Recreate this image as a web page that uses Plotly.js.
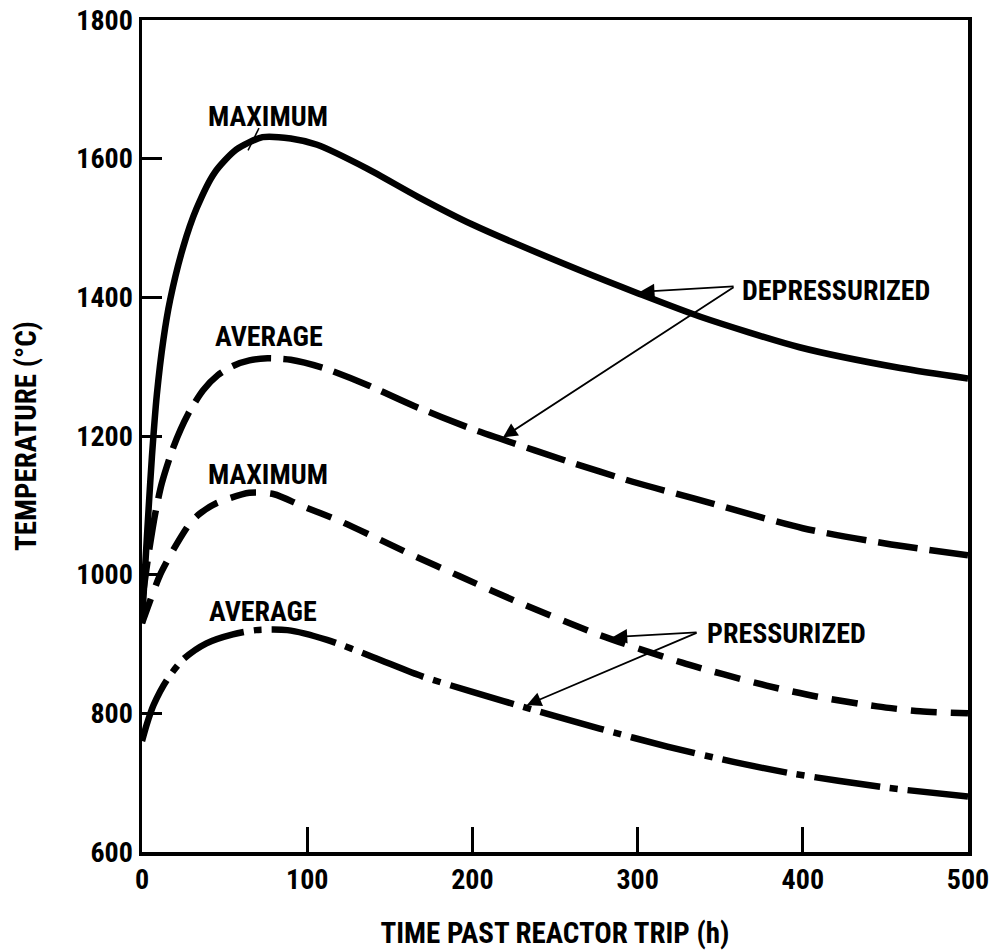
<!DOCTYPE html>
<html>
<head>
<meta charset="utf-8">
<script src="https://cdn.plot.ly/plotly-3.0.1.min.js"></script>
<style>
  html, body { margin: 0; padding: 0; background: #fff; }
  #chart { width: 990px; height: 950px; }
</style>
</head>
<body>
<div id="chart"></div>
<script>
// Depressurized, maximum (solid)
const depMaxX = [0, 2, 4, 6, 9, 13, 17, 25, 33, 44, 57, 73, 90, 106, 136, 167, 200, 265, 300, 338, 398, 459, 500];
const depMaxY = [930, 1015, 1095, 1170, 1260, 1340, 1396, 1473, 1528, 1580, 1613, 1631, 1629, 1620, 1586, 1545, 1505, 1439, 1406, 1372, 1328, 1298, 1283];
// Depressurized, average (long dash)
const depAvgX = [0, 4, 8, 12, 19, 28, 37, 46, 55, 65, 76, 90, 110, 136, 164, 200, 217, 257, 297, 334, 400, 450, 500];
const depAvgY = [962, 1030, 1088, 1132, 1184, 1232, 1266, 1288, 1301, 1309, 1312, 1310, 1298, 1274, 1244, 1210, 1196, 1164, 1134, 1110, 1067, 1045, 1028];
// Pressurized, maximum (dashed)
const prMaxX = [0, 5, 11, 19, 29, 35, 45, 65, 80, 96, 120, 140, 164, 192, 229, 277, 327, 378, 409, 445, 471, 500];
const prMaxY = [930, 963, 1000, 1036, 1074, 1088, 1103, 1118, 1116, 1100, 1077, 1055, 1028, 998, 959, 913, 873, 840, 824, 810, 803, 800];
// Pressurized, average (dash-dot)
const prAvgX = [0, 3, 7, 15, 25, 39, 55, 69, 88, 112, 140, 170, 200, 237, 277, 318, 358, 394, 450, 500];
const prAvgY = [760, 785, 812, 848, 878, 901, 914, 920, 920, 906, 881, 853, 831, 805, 778, 752, 730, 713, 693, 680];

const xTicks = [0, 100, 200, 300, 400, 500];
const yTicks = [600, 800, 1000, 1200, 1400, 1600, 1800];

const FONT = "'Liberation Sans Narrow', 'Roboto Condensed', 'DejaVu Sans Condensed', 'Liberation Sans', sans-serif";

function line(x, y, dash) {
  return {
    x: x, y: y, type: 'scatter', mode: 'lines',
    line: { color: '#000', width: 6.5, dash: dash, shape: 'spline', smoothing: 0.7 },
    hoverinfo: 'skip', showlegend: false
  };
}

const data = [
  line(depMaxX, depMaxY, 'solid'),
  line(depAvgX, depAvgY, '40px,12px'),
  line(prMaxX, prMaxY, '26px,14px'),
  line(prAvgX, prAvgY, '66px,10px,8px,10px')
];

const labelFont = { family: FONT, size: 28, color: '#000', weight: 'bold' };

function label(text, x, y) {
  return { text: text, x: x, y: y, xref: 'x', yref: 'y', showarrow: false, font: labelFont };
}
function arrow(tx, ty, hx, hy) {
  return {
    text: '', x: hx, y: hy, ax: tx, ay: ty, xref: 'x', yref: 'y', axref: 'x', ayref: 'y',
    showarrow: true, arrowhead: 2, arrowsize: 1.6, arrowwidth: 1.8, arrowcolor: '#000', standoff: 0
  };
}

const layout = {
  width: 990, height: 950,
  margin: { l: 142, r: 22, t: 20, b: 98 },
  paper_bgcolor: '#fff', plot_bgcolor: '#fff',
  font: { family: FONT, color: '#000', weight: 'bold' },
  xaxis: {
    range: [0, 500], tickvals: xTicks, ticktext: xTicks.map(String),
    ticks: 'inside', ticklen: 25, tickwidth: 3, tickcolor: '#000',
    showline: true, linewidth: 3.5, linecolor: '#000', mirror: true,
    showgrid: false, zeroline: false,
    tickfont: { family: FONT, size: 28, color: '#000', weight: 'bold' },
    title: { text: 'TIME PAST REACTOR TRIP (h)', font: { family: FONT, size: 29, color: '#000', weight: 'bold' }, standoff: 30 }
  },
  yaxis: {
    range: [600, 1800], tickvals: yTicks, ticktext: yTicks.map(String),
    ticks: 'inside', ticklen: 20, tickwidth: 3, tickcolor: '#000',
    showline: true, linewidth: 3.5, linecolor: '#000', mirror: true,
    showgrid: false, zeroline: false,
    tickfont: { family: FONT, size: 28, color: '#000', weight: 'bold' },
    title: { text: 'TEMPERATURE (°C)', font: { family: FONT, size: 29, color: '#000', weight: 'bold' }, standoff: 32 }
  },
  annotations: [
    label('MAXIMUM', 76, 1661),
    label('AVERAGE', 77, 1343),
    label('MAXIMUM', 76, 1144),
    label('AVERAGE', 73, 947),
    label('DEPRESSURIZED', 420, 1410),
    label('PRESSURIZED', 390, 915),
    arrow(359, 1416, 301.5, 1408),
    arrow(359, 1416, 218.5, 1198),
    arrow(336.6, 917, 285, 910),
    arrow(336.6, 917, 233, 812)
  ],
  shapes: [
    { type: 'line', xref: 'x', yref: 'y', x0: 70.8, y0: 1644, x1: 64.2, y1: 1612, line: { color: '#000', width: 1.5 } }
  ]
};

Plotly.newPlot('chart', data, layout, { staticPlot: true, displayModeBar: false });
</script>
</body>
</html>
